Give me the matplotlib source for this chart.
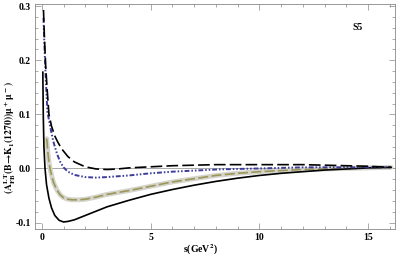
import matplotlib
matplotlib.use("Agg")
import matplotlib.pyplot as plt
from matplotlib.ticker import MultipleLocator, FormatStrFormatter

plt.rcParams["font.family"] = ["Liberation Serif", "DejaVu Serif"]
plt.rcParams["font.weight"] = "bold"
plt.rcParams["mathtext.fontset"] = "stix"
plt.rcParams["mathtext.default"] = "bf"

# black long-dashed curve
s_dash = [0.08, 0.12, 0.18, 0.25, 0.33, 0.45, 0.6, 0.72, 0.9, 1.2, 1.5, 2.0,
          2.5, 3.0, 3.5, 4.0, 5.0, 6.0, 7.0, 8.0, 9.0, 10.0, 11.0, 12.0, 13.0,
          14.0, 15.0, 16.05]
y_dash = [0.293, 0.245, 0.19, 0.145, 0.10, 0.078, 0.06, 0.05, 0.037, 0.022,
          0.012, 0.003, -0.001, -0.002, -0.001, 0.001, 0.003, 0.005, 0.006,
          0.007, 0.007, 0.007, 0.007, 0.007, 0.006, 0.005, 0.004, 0.002]

# blue dash-dotted curve
s_blue = [0.08, 0.12, 0.18, 0.26, 0.4, 0.53, 0.7, 0.85, 1.0, 1.2, 1.5, 2.0,
          2.5, 3.0, 4.0, 5.0, 6.0, 7.0, 8.0, 9.0, 10.0, 11.0, 12.0, 13.0,
          14.0, 15.0, 16.05]
y_blue = [0.278, 0.23, 0.17, 0.105, 0.075, 0.05, 0.027, 0.012, 0.002, -0.006,
          -0.012, -0.016, -0.017, -0.016, -0.013, -0.009, -0.006, -0.004,
          -0.002, -0.001, 0.0, 0.001, 0.002, 0.002, 0.002, 0.002, 0.002]

# olive dashed curve (with grey band)
s_olive = [0.23, 0.28, 0.33, 0.38, 0.45, 0.55, 0.7, 0.85, 1.0, 1.2, 1.4, 1.7,
           2.0, 2.5, 3.0, 4.0, 5.0, 6.0, 7.0, 8.0, 9.0, 10.0, 11.0, 12.0,
           13.0, 14.0, 15.0, 16.05]
y_olive = [0.055, 0.03, 0.012, 0.0, -0.013, -0.027, -0.040, -0.049, -0.054,
           -0.057, -0.058, -0.058, -0.057, -0.053, -0.048, -0.041, -0.033,
           -0.025, -0.019, -0.013, -0.009, -0.006, -0.004, -0.002, -0.001,
           0.0, 0.001, 0.002]

# black solid curve
s_solid = [0.05, 0.07, 0.1, 0.15, 0.22, 0.33, 0.45, 0.6, 0.8, 1.0, 1.2, 1.5,
           2.0, 2.5, 3.0, 4.0, 5.0, 6.0, 7.0, 8.0, 9.0, 10.0, 11.0, 12.0,
           13.0, 14.0, 15.0, 16.05]
y_solid = [0.178, 0.10, 0.04, 0.0, -0.03, -0.055, -0.073, -0.087, -0.096,
           -0.099, -0.098, -0.095, -0.087, -0.079, -0.071, -0.059, -0.048,
           -0.039, -0.031, -0.024, -0.018, -0.013, -0.009, -0.006, -0.003,
           -0.001, 0.001, 0.002]


def main():
    fig = plt.figure(figsize=(4.0, 2.58), dpi=100)
    ax = fig.add_axes([0.0875, 0.1124, 0.9, 0.872])

    ax.axhline(0, color="#999999", lw=0.6, zorder=1)

    ax.plot(s_olive, y_olive, color="#d4d4cc", lw=3.5, solid_capstyle="round",
            zorder=2)
    ax.plot(s_olive, y_olive, color="#9c9658", lw=1.2, dashes=(6, 2), zorder=3)
    ax.plot(s_solid, y_solid, color="black", lw=1.2, zorder=4)
    ax.plot(s_blue, y_blue, color="#3c3c9c", lw=1.4,
            dashes=(2.5, 1, 0.8, 1, 0.8, 1), zorder=5)
    ax.plot(s_dash, y_dash, color="black", lw=1.2, dashes=(7, 2.5), zorder=6)

    ax.set_xlim(-0.31, 16.23)
    ax.set_ylim(-0.112, 0.304)

    ax.xaxis.set_major_locator(MultipleLocator(5))
    ax.xaxis.set_minor_locator(MultipleLocator(1))
    ax.yaxis.set_major_locator(MultipleLocator(0.1))
    ax.yaxis.set_minor_locator(MultipleLocator(0.02))
    ax.yaxis.set_major_formatter(FormatStrFormatter("%.1f"))

    for sp in ax.spines.values():
        sp.set_color("#888888")
        sp.set_linewidth(0.6)
    ax.tick_params(which="both", direction="in", top=True, right=True,
                   color="#888888", width=0.5, labelsize=7, pad=3)
    ax.tick_params(which="major", length=4)
    ax.tick_params(which="minor", length=2)

    ax.text(14.5, 0.261, "S5", fontsize=7, fontweight="bold",
            ha="center", va="center")

    fig.text(0.5, 1 - 250 / 258, r"s(GeV$^2$)", fontsize=7,
             fontweight="bold", ha="center", va="center")
    fig.text(10 / 400, 1 - 137 / 258,
             r"$(A^{LT}_{FB}(B\!\rightarrow\! K_1(1270))\mu^+\mu^-)$",
             fontsize=7, rotation=90, ha="center", va="center")

    fig.savefig("out.png", dpi=100)


if __name__ == "__main__":
    main()
